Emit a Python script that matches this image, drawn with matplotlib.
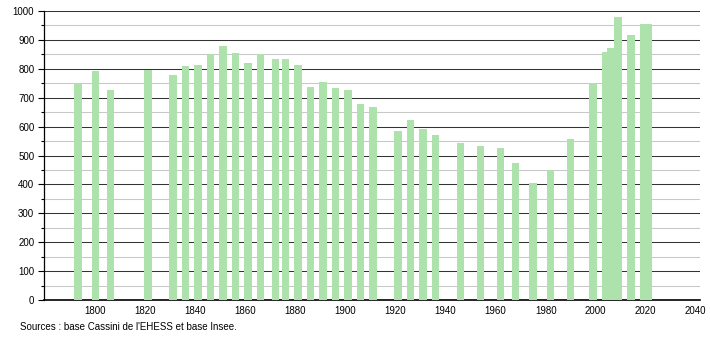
# Évolution démographique - diagramme en barres

import matplotlib
matplotlib.use("Agg")
import matplotlib.pyplot as plt
from matplotlib.ticker import MultipleLocator

# Données
annees = [1793, 1800, 1806, 1821, 1831, 1836, 1841, 1846, 1851, 1856,
          1861, 1866, 1872, 1876, 1881, 1886, 1891, 1896, 1901, 1906,
          1911, 1921, 1926, 1931, 1936, 1946, 1954, 1962, 1968, 1975,
          1982, 1990, 1999, 2004, 2006, 2009, 2014, 2019, 2020, 2021]
population = [750, 792, 727, 796, 777, 810, 813, 851, 879, 856,
              819, 850, 833, 833, 813, 737, 754, 734, 727, 678,
              668, 585, 623, 592, 571, 543, 533, 526, 473, 404,
              450, 556, 750, 859, 871, 980, 917, 955, 955, 955]
ticks_x = [1800, 1820, 1840, 1860, 1880, 1900, 1920, 1940, 1960, 1980, 2000, 2020, 2040]
source = "Sources : base Cassini de l'EHESS et base Insee."

plt.rcParams['font.family'] = ['Liberation Sans', 'DejaVu Sans']

fig = plt.figure(figsize=(7.1, 3.4), dpi=100)
ax = fig.add_axes([0.062, 0.1176, 0.924, 0.85])

ax.bar(annees, population, width=3, color='#ade2ad', zorder=3)

ax.set_xlim(1779.5, 2041.7)
ax.set_ylim(0, 1000)
ax.set_xticks(ticks_x)
ax.yaxis.set_major_locator(MultipleLocator(100))
ax.yaxis.set_minor_locator(MultipleLocator(50))

# grille : lignes foncées tous les 100, claires tous les 50
ax.grid(True, axis='y', which='major', color='#333333', linewidth=0.75, zorder=1)
ax.grid(True, axis='y', which='minor', color='#c8c8c8', linewidth=0.75, zorder=1)

for s in ['top', 'right']:
    ax.spines[s].set_visible(False)
ax.spines['left'].set_linewidth(0.9)
ax.spines['bottom'].set_linewidth(1.2)

ax.tick_params(axis='x', length=0, labelsize=7, pad=4)
ax.tick_params(axis='y', which='major', length=4, width=0.8, labelsize=7, pad=3)
ax.tick_params(axis='y', which='minor', length=2, width=0.8)

fig.text(20 / 710, 1 - 327 / 340, source, fontsize=7, va='center', ha='left')

fig.savefig('out.png', dpi=100)
